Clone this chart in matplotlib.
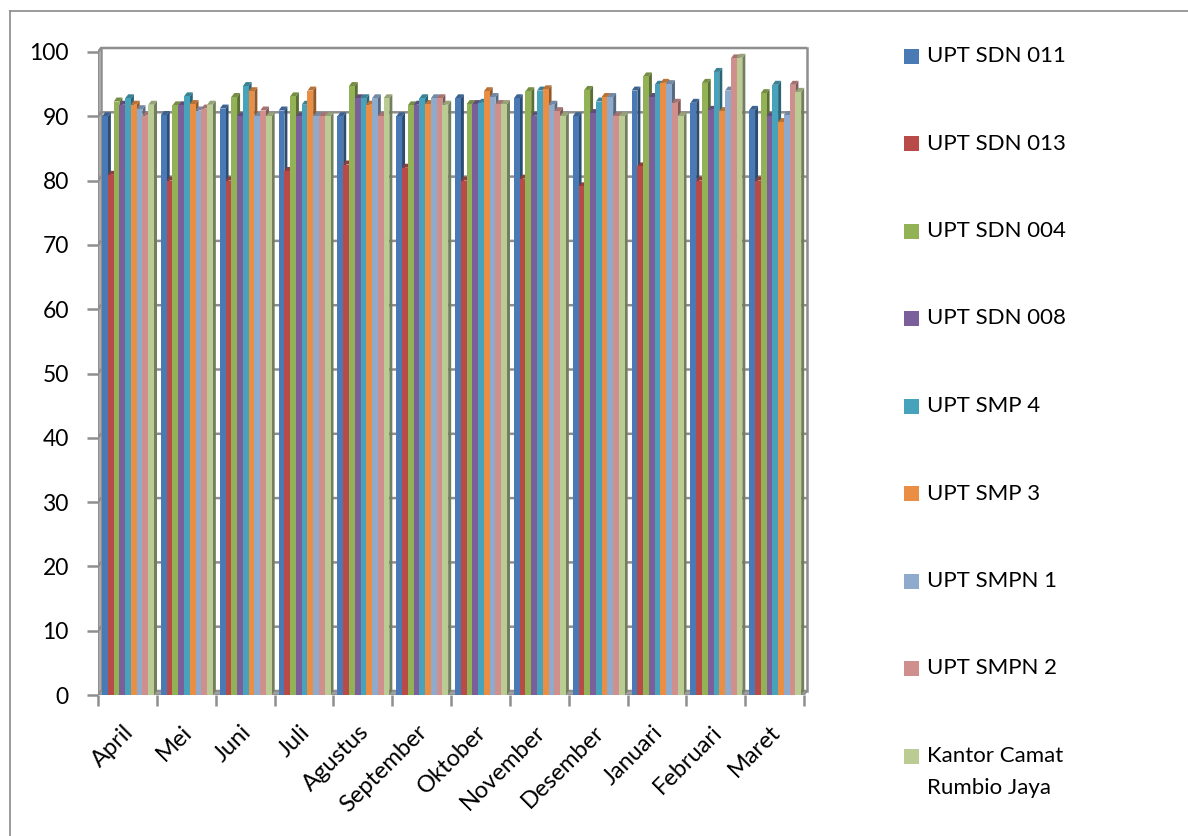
import numpy as np
import matplotlib
matplotlib.use('Agg')
import matplotlib.pyplot as plt
from matplotlib.patches import Polygon, Rectangle
from matplotlib.lines import Line2D
import matplotlib.colors as mcolors
import matplotlib.transforms as mtransforms

plt.rcParams['font.family'] = ['Lato', 'DejaVu Sans']

months = ['April', 'Mei', 'Juni', 'Juli', 'Agustus', 'September', 'Oktober',
          'November', 'Desember', 'Januari', 'Februari', 'Maret']

series_names = ['UPT SDN 011', 'UPT SDN 013', 'UPT SDN 004', 'UPT SDN 008',
                'UPT SMP 4', 'UPT SMP 3', 'UPT SMPN 1', 'UPT SMPN 2',
                'Kantor Camat\nRumbio Jaya']

sdn011 = [90, 90.2, 91.2, 90.9, 90, 90, 92.8, 92.8, 90, 94, 92.1, 91]
sdn013 = [80.9, 80, 80, 81.5, 82.5, 82, 80, 80.3, 79.1, 82.2, 80, 80]
sdn004 = [92.3, 91.7, 93, 93.1, 94.7, 91.7, 91.9, 93.9, 94.1, 96.2, 95.2, 93.6]
sdn008 = [91.8, 91.7, 90, 90, 92.8, 91.8, 91.9, 90.1, 90.5, 93, 91, 90]
smp4 = [92.8, 93.1, 94.7, 91.8, 92.8, 92.8, 92.1, 94, 92.3, 94.9, 96.9, 94.9]
smp3 = [91.8, 91.9, 93.9, 94, 91.8, 91.9, 93.9, 94.2, 93, 95.2, 90.8, 89.1]
smpn1 = [91.1, 90.9, 90, 90, 92.8, 92.8, 93, 91.8, 93, 95, 94, 90.2]
smpn2 = [90.1, 91.2, 90.9, 90, 90, 92.8, 91.9, 90.8, 90, 92.1, 99, 94.9]
kantor = [91.8, 91.8, 90, 90, 92.8, 91.8, 91.9, 90, 90, 90, 99.1, 93.8]

all_series = [sdn011, sdn013, sdn004, sdn008, smp4, smp3, smpn1, smpn2, kantor]

colors = ['#4A7AB5', '#B84B48', '#93B255', '#7A5F9A', '#47A3BC',
          '#EA8E43', '#8EAACD', '#CF8F8D', '#BACC94']

yticks = [0, 10, 20, 30, 40, 50, 60, 70, 80, 90, 100]

W, H = 1188, 836
fig = plt.figure(figsize=(W / 100, H / 100), dpi=100)

# pixel geometry of the plot (front face)
x0_px, x1_px = 98, 804
y0_px, y100_px = 695, 52
ngroups = len(months)
px_per_x = (x1_px - x0_px) / ngroups
px_per_y = (y0_px - y100_px) / 100.0
xmax = ngroups + 0.15
ymax = 101.5
ax = fig.add_axes([x0_px / W, (H - y0_px) / H,
                   xmax * px_per_x / W, ymax * px_per_y / H])
ax.set_xlim(0, xmax)
ax.set_ylim(0, ymax)
for s in ax.spines.values():
    s.set_visible(False)
ax.patch.set_alpha(0)

# depth offset of the fake 3D look (data units)
dx = 3 / px_per_x
dy = 4 / px_per_y

grid_col = '#8E8E8E'
for v in yticks:
    ax.plot([0, dx, ngroups + dx], [v, v + dy, v + dy], color=grid_col,
            lw=1.8, zorder=1, solid_capstyle='butt')
# back wall edges
ax.plot([dx, dx], [dy, 100 + dy], color=grid_col, lw=1.8, zorder=1)
ax.plot([ngroups + dx, ngroups + dx], [dy, 100 + dy], color=grid_col, lw=1.8, zorder=1)
# floor
ax.add_patch(Polygon([[0, 0], [ngroups, 0], [ngroups + dx, dy], [dx, dy]],
                     closed=True, facecolor='#A0A0A0', edgecolor=grid_col,
                     lw=1.2, zorder=1.5))
# front axis line
ax.plot([0, 0], [0, 100], color=grid_col, lw=1.8, zorder=10)

start = 0.07
bw = 0.098
xpos = np.arange(ngroups)


def shade(c, f):
    r, g, b = mcolors.to_rgb(c)
    return (r * f, g * f, b * f)


for k, (vals, col) in enumerate(zip(all_series, colors)):
    xs = xpos + start + k * bw
    bars = ax.bar(xs, vals, width=bw, align='edge', color=col, lw=0,
                  zorder=3 + k * 0.1 + 0.05)
    for b in bars:
        bx, bh = b.get_x(), b.get_height()
        bx2 = bx + b.get_width()
        side = Polygon([[bx2, 0], [bx2 + dx, dy], [bx2 + dx, bh + dy], [bx2, bh]],
                       closed=True, facecolor=shade(col, 0.62), lw=0,
                       zorder=3 + k * 0.1)
        top = Polygon([[bx, bh], [bx2, bh], [bx2 + dx, bh + dy], [bx + dx, bh + dy]],
                      closed=True, facecolor=shade(col, 0.8), lw=0,
                      zorder=3 + k * 0.1)
        ax.add_patch(side)
        ax.add_patch(top)

# y axis ticks
ax.set_yticks(yticks)
ax.set_yticklabels([str(v) for v in yticks], fontsize=16.5)
ax.tick_params(axis='y', length=8, width=1.8, color=grid_col, pad=13)

# x axis: boundary ticks (minor), labels at group centres (major)
ax.set_xticks(xpos + 0.5)
ax.set_xticklabels(months, fontsize=17, rotation=45, ha='right', va='top',
                   rotation_mode='anchor')
ax.set_xticks(np.arange(ngroups + 1), minor=True)
ax.tick_params(axis='x', which='major', length=0, pad=19)
ax.tick_params(axis='x', which='minor', length=8, width=1.8, color=grid_col)
shift = mtransforms.ScaledTranslation(-5 / 100, 0, fig.dpi_scale_trans)
for lbl in ax.get_xticklabels():
    lbl.set_transform(lbl.get_transform() + shift)

# outer chart border
fig.add_artist(Line2D([10 / W, 10 / W], [0, 1 - 11 / H], color='#8A8A8A', lw=1.2))
fig.add_artist(Line2D([10 / W, 1], [1 - 11 / H, 1 - 11 / H], color='#8A8A8A', lw=1.2))

# legend, drawn by hand
leg_y0 = 56
leg_step = 87.5
for i, (name, col) in enumerate(zip(series_names, colors)):
    yc = leg_y0 + i * leg_step
    fig.add_artist(Rectangle((904 / W, 1 - (yc + 7.5) / H), 15 / W, 15 / H,
                             facecolor=col, edgecolor='none'))
    for j, ln in enumerate(name.split('\n')):
        fig.text(927 / W, 1 - (yc + j * 32) / H, ln, fontsize=16,
                 va='center', ha='left')

fig.savefig('out.png', dpi=100)
